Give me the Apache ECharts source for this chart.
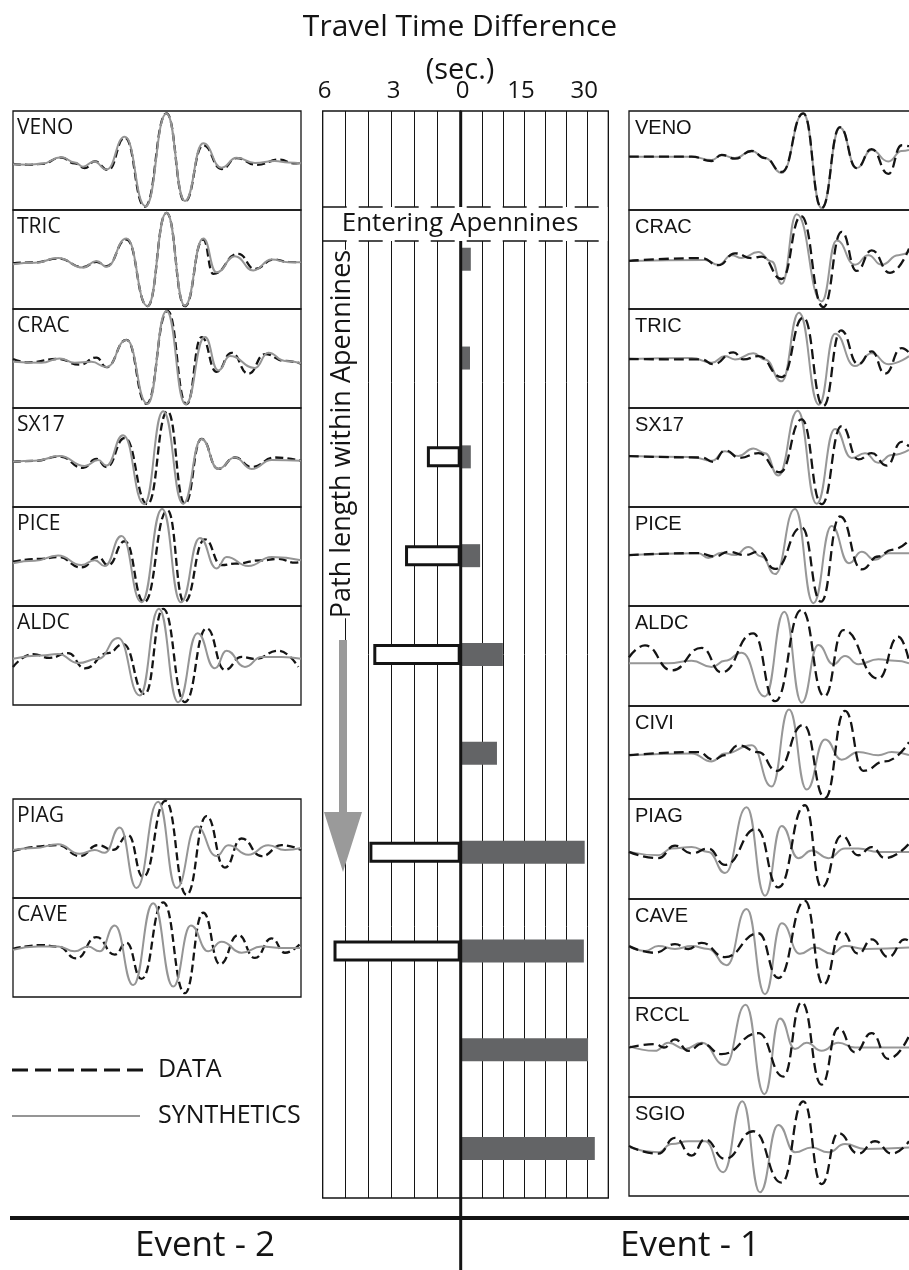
<!DOCTYPE html>
<html><head><meta charset="utf-8">
<script src="https://cdn.jsdelivr.net/npm/echarts@6/dist/echarts.min.js"></script>
<style>html,body{margin:0;padding:0;background:#fff;overflow:hidden}#c{width:909px;height:1270px}</style>
</head><body><div id="c"></div>
<script>
// ---------------- data ----------------
const rowStations = ['VENO','CRAC','TRIC','SX17','PICE','ALDC','CIVI','PIAG','CAVE','RCCL','SGIO'];
const event1Delay = [null, 2.4, 2.2, 2.4, 4.6, 10.0, 8.6, 29.4, 29.2, 30.2, 31.8];   // sec (0-35 scale)
const event2Delay = [null, null, null, 1.47, 2.42, 3.8, null, 3.97, 5.53, null, null]; // sec (0-6 scale)
const event2TickLabels = [6, 3, 0];
const event1TickLabels = [15, 30];
const leftStations = ['VENO','TRIC','CRAC','SX17','PICE','ALDC','PIAG','CAVE'];
const rightStations = ['VENO','CRAC','TRIC','SX17','PICE','ALDC','CIVI','PIAG','CAVE','RCCL','SGIO'];

// Event 2 (left) traces: [time, amplitude]
const VENO_L_syn = [[0,-0.08],[4.5,-0.09],[8.5,-0.07],[14.5,0.07],[18.5,-0.04],[21,-0.13],[24.3,-0.02],[28,-0.19],[33.5,0.5],[39.7,-0.96],[46,0.99],[51.5,-0.85],[57,0.36],[62.5,-0.15],[67,0.06],[72.5,-0.05],[78.5,-0.01],[82.5,-0.04],[86.3,-0.06]];
const VENO_L_dat = [[0,-0.07],[4.5,-0.09],[8.5,-0.07],[14.5,0.06],[18.5,-0.06],[21.5,-0.16],[24.5,-0.02],[28.5,-0.2],[33.5,0.48],[39.5,-0.97],[46,0.99],[51.5,-0.86],[57,0.32],[62.5,-0.18],[67,0.05],[73,-0.09],[80,0.02],[84,-0.06],[86.3,-0.05]];
const TRIC_L_syn = [[0,-0.1],[6.5,-0.07],[13.5,0.03],[21,-0.17],[25,-0.03],[28,-0.15],[34,0.44],[40.3,-0.98],[46,0.98],[51.5,-0.97],[57,0.44],[61,-0.27],[66.5,0.07],[72,-0.23],[77.5,0.0],[82.5,-0.06],[86.3,-0.06]];
const TRIC_L_dat = [[0,-0.08],[6.5,-0.06],[13.5,0.02],[21,-0.16],[25,-0.05],[28,-0.14],[34,0.42],[40.3,-0.98],[46,0.98],[51.5,-0.98],[57,0.42],[60,-0.3],[67.5,0.12],[72.5,-0.2],[78,0.0],[82.5,-0.05],[86.3,-0.06]];
const CRAC_L_syn = [[0,-0.07],[8.5,-0.09],[14,0.0],[18.5,-0.09],[23.5,-0.07],[28,-0.18],[34,0.39],[40.3,-0.95],[46,1.0],[51.7,-0.96],[57.5,0.45],[61.5,-0.25],[65,0.05],[72.5,-0.2],[76.5,0.12],[81.5,-0.05],[86.3,-0.1]];
const CRAC_L_dat = [[0,-0.01],[4.5,-0.08],[13.5,-0.01],[20,-0.13],[25,0.02],[28,-0.18],[34,0.39],[40,-0.95],[46.3,1.0],[52,-0.96],[56.5,0.45],[61,-0.28],[65.5,0.12],[70.5,-0.32],[75.5,0.09],[81.5,-0.05],[86.3,-0.11]];
const SX17_L_syn = [[0,-0.09],[6.5,-0.07],[14,0.03],[21.5,-0.18],[25.5,-0.05],[28,-0.17],[33,0.47],[39.3,-0.98],[45,0.97],[51,-0.97],[56.5,0.39],[61.5,-0.24],[66.5,0.0],[71.5,-0.24],[77.5,-0.05],[86.3,-0.07]];
const SX17_L_dat = [[0,-0.09],[6.5,-0.07],[14,0.02],[21,-0.22],[25,-0.03],[28,-0.2],[33.5,0.41],[40.3,-0.98],[46.3,0.97],[51.5,-0.97],[56.5,0.39],[61.5,-0.24],[66.5,0.0],[71.5,-0.2],[78.5,0.0],[86.3,-0.07]];
const PICE_L_syn = [[0,-0.14],[6.5,-0.09],[13.5,0.02],[20.5,-0.18],[24.5,-0.08],[27.5,-0.2],[32.5,0.43],[38.5,-0.96],[44.7,1.0],[50.3,-0.96],[56,0.39],[61,-0.25],[64,-0.01],[70.5,-0.2],[77.5,-0.01],[86.3,-0.08]];
const PICE_L_dat = [[0,-0.11],[8.5,-0.05],[13.5,-0.01],[20.5,-0.23],[25.5,-0.01],[28.5,-0.18],[33.5,0.32],[39.3,-0.96],[46.3,0.97],[51.3,-0.96],[57.5,0.36],[62.5,-0.18],[66.5,-0.15],[74.5,-0.08],[79.5,-0.05],[84.5,-0.13],[86.3,-0.11]];
const ALDC_L_syn = [[0,-0.07],[8.5,0.0],[13.5,0.03],[19.5,-0.16],[25.5,-0.07],[31.5,0.37],[38,-0.84],[43.7,0.98],[49.5,-0.98],[55.3,0.47],[60.5,-0.27],[64,0.1],[69.5,-0.24],[74.5,-0.03],[80.5,-0.03],[86.3,-0.07]];
const ALDC_L_dat = [[0,-0.24],[6,0.03],[11,-0.05],[16.5,0.05],[21.5,-0.27],[28.5,0.05],[33,0.24],[39.5,-0.81],[45,0.98],[51.5,-0.98],[58,0.57],[63.5,-0.3],[68.5,-0.03],[72.5,-0.07],[79.5,0.1],[85.5,-0.24]];
const PIAG_L_syn = [[0,-0.03],[6.5,0.01],[13.5,0.09],[20,-0.11],[24.5,-0.03],[27.5,-0.09],[32,0.44],[37,-0.83],[43.5,0.98],[49,-0.83],[55,0.46],[61,-0.16],[64.5,0.07],[70.5,-0.13],[76.5,0.07],[81.5,-0.03],[86.3,0.01]];
const PIAG_L_dat = [[0,-0.05],[13.5,0.07],[20,-0.16],[25.5,0.07],[30,-0.03],[34.5,0.28],[39,-0.6],[45.7,1.0],[52,-0.97],[58,0.68],[63.5,-0.4],[68.5,0.21],[74.5,-0.16],[80.5,0.07],[86.3,-0.03]];
const CAVE_L_syn = [[0,-0.05],[7.5,0.02],[13.5,0.02],[18.5,-0.08],[22.5,0.02],[26,-0.08],[30.5,0.46],[36,-0.79],[42,0.93],[48,-0.82],[53.3,0.46],[58.5,-0.08],[62.5,0.12],[68.5,-0.11],[74.5,0.02],[80.5,-0.01],[86.3,-0.01]];
const CAVE_L_dat = [[0,-0.03],[8.5,0.05],[13.5,0.02],[19,-0.23],[25,0.22],[30.5,-0.15],[34,0.1],[38.5,-0.66],[45,0.95],[51.5,-0.96],[57,0.73],[62,-0.35],[67.5,0.26],[72.5,-0.22],[77.5,0.19],[81.5,-0.11],[86.3,0.1]];

// Event 1 (right) traces: [time, amplitude]
const VENO_R_syn = [[0,0.08],[18.8,0.08],[24.8,0.01],[27.8,0.11],[31.8,0.05],[36.8,0.2],[40.8,0.05],[45.8,-0.26],[52.3,0.99],[57.8,-1.0],[63.3,0.69],[68.3,-0.16],[72.8,0.22],[77.8,-0.02],[81.8,0.2],[84,0.22]];
const VENO_R_dat = [[0,0.08],[18.8,0.08],[24.8,-0.01],[27.8,0.12],[31.8,0.04],[36.8,0.2],[40.8,0.05],[45.8,-0.24],[52.3,0.99],[57.8,-1.0],[63.3,0.7],[68.3,-0.16],[72.8,0.24],[77.8,-0.28],[81.8,0.32],[84,0.3]];
const CRAC_R_syn = [[0,-0.03],[22.8,-0.01],[26.8,-0.11],[30.8,0.09],[33.8,0.03],[38.8,0.16],[42.8,-0.04],[45.8,-0.51],[50.3,0.95],[57.8,-0.88],[62.3,0.4],[67.8,-0.11],[71.8,0.09],[75.8,-0.11],[80.8,0.09],[84,0.16]];
const CRAC_R_dat = [[0,-0.03],[21.8,0.03],[26.8,-0.12],[31.8,0.13],[36.8,0.03],[39.8,0.06],[45.8,-0.41],[51.6,0.91],[58.3,-1.0],[63.8,0.58],[68.3,-0.24],[72.8,0.19],[78.3,-0.28],[84,0.23]];
const TRIC_R_syn = [[0,-0.01],[18.8,0.01],[24.8,-0.09],[28.8,0.05],[31.8,-0.02],[37.3,0.11],[40.8,-0.02],[45.8,-0.48],[51,0.96],[57,-0.97],[61.8,0.52],[67.8,-0.16],[72.8,0.11],[77.8,-0.12],[84,0.05]];
const TRIC_R_dat = [[0,-0.01],[21.8,-0.02],[25.3,-0.12],[31.3,0.13],[34.3,-0.02],[38.8,0.05],[45.8,-0.39],[52.3,0.86],[58.3,-1.0],[63.6,0.59],[68.8,-0.12],[72.8,0.15],[76.8,-0.32],[81.8,0.22],[84,0.12]];
const SX17_R_syn = [[0,0.03],[18.8,0.01],[24.8,-0.07],[28.8,0.13],[32.8,0.03],[37.3,0.19],[40.8,0.09],[44.8,-0.38],[50.6,0.98],[56.3,-0.97],[61.8,0.6],[66.8,-0.01],[70.8,0.09],[74.8,-0.11],[78.8,0.05],[84,0.16]];
const SX17_R_dat = [[0,0.03],[21.8,0.0],[25.3,-0.09],[28.8,0.15],[33.3,-0.01],[38.8,0.09],[45.3,-0.31],[51.8,0.8],[57.8,-0.98],[63.8,0.66],[68.8,-0.04],[72.8,0.09],[77.3,-0.17],[81.8,0.33],[84,0.23]];
const PICE_R_syn = [[0,0.03],[20.8,0.07],[23.8,-0.03],[27.8,0.08],[31.8,0.03],[35.8,0.2],[39.8,0.0],[43.8,-0.37],[49.8,1.0],[55.3,-0.98],[60.8,0.64],[66,-0.14],[69.8,0.1],[73.8,-0.07],[77.8,0.07],[84,0.07]];
const PICE_R_dat = [[0,0.03],[20.8,0.07],[25.8,0.0],[29.8,0.1],[34.8,0.03],[38.8,0.1],[43.8,-0.26],[51.8,0.61],[57.6,-0.95],[63.3,0.84],[69.8,-0.27],[74.8,0.0],[78.8,0.14],[84,0.34]];
const ALDC_R_syn = [[0,-0.15],[11.8,-0.15],[18.8,-0.1],[24.8,-0.23],[28.8,-0.1],[33.8,0.07],[40.8,-0.84],[46.6,0.92],[51.8,-0.97],[56.8,0.23],[61.3,-0.17],[64.8,0.0],[68.8,-0.17],[74.8,-0.07],[79.8,-0.1],[84,-0.15]];
const ALDC_R_dat = [[0,-0.03],[4.8,0.22],[12.8,-0.3],[21.8,0.17],[27.8,-0.34],[37.3,0.47],[43.8,-0.94],[51.8,0.96],[58.6,-0.84],[64.3,0.54],[74.8,-0.47],[80.8,0.4],[84,-0.1]];
const CIVI_R_syn = [[0,-0.06],[18.8,-0.02],[24.8,-0.2],[28.8,-0.02],[36.8,0.16],[42.8,-0.76],[48,0.96],[53.3,-0.83],[58.8,0.29],[63.8,-0.16],[68.8,0.01],[74.8,-0.06],[78.8,0.01],[84,-0.06]];
const CIVI_R_dat = [[0,-0.06],[20.8,0.01],[25.3,-0.16],[28.8,-0.06],[32.8,0.16],[38.8,0.01],[44.3,-0.41],[52.3,0.62],[58.8,-1.02],[64.8,0.93],[70.3,-0.41],[76.8,-0.2],[84,0.23]];
const PIAG_R_syn = [[0,-0.06],[8.8,-0.13],[12.8,0.01],[18.8,0.04],[23.8,-0.06],[28.8,-0.5],[35.3,0.87],[40.8,-0.97],[45.8,0.48],[50.8,-0.19],[54.8,-0.03],[59.8,-0.19],[64.8,0.01],[68.8,0.01],[74.8,-0.06],[84,-0.06]];
const PIAG_R_dat = [[0,-0.06],[8.8,-0.19],[13.8,0.07],[18.8,-0.09],[23.8,0.01],[28.8,-0.33],[38.3,0.42],[44.8,-0.8],[52.8,0.91],[57.8,-0.8],[63.8,0.28],[68.8,-0.13],[72.8,0.04],[76.8,-0.19],[84,0.11]];
const CAVE_R_syn = [[0,0.05],[4.8,-0.05],[8.8,0.05],[13.8,-0.01],[18.8,0.05],[23.8,-0.01],[29.3,-0.35],[35.3,0.83],[40.8,-0.96],[45.8,0.53],[51.3,-0.11],[55.8,0.02],[60.8,-0.11],[64.8,0.05],[70.8,-0.01],[84,0.02]];
const CAVE_R_dat = [[0,0.05],[7.8,-0.09],[13.8,0.09],[17.8,-0.01],[21.8,0.12],[28.8,-0.18],[38.8,0.32],[44.8,-0.62],[52.8,1.0],[58.3,-0.76],[63.8,0.36],[68.8,-0.11],[72.8,0.19],[77.8,-0.18],[82.8,0.19],[84,0.16]];
const RCCL_R_syn = [[0,0.03],[7.8,-0.07],[11.8,0.1],[16.8,-0.03],[21.8,0.1],[28.8,-0.37],[35,0.9],[40.6,-0.98],[45.3,0.61],[49.8,-0.03],[53.3,0.1],[57.8,-0.07],[62.8,0.1],[67.8,0.0],[84,0.0]];
const RCCL_R_dat = [[0,0.0],[8,0.07],[10.5,0.0],[13.8,0.17],[17.8,-0.07],[22,0.08],[27.8,-0.14],[38.8,0.3],[46.3,-0.61],[51.8,0.95],[57.8,-0.78],[62.8,0.41],[67.8,-0.1],[72.8,0.3],[77.8,-0.24],[84,0.24]];
const SGIO_R_syn = [[0,-0.01],[8.8,-0.12],[12.8,0.05],[17.8,0.11],[22.8,0.11],[28.3,-0.54],[34,0.95],[39.3,-0.96],[44.8,0.45],[49.8,-0.12],[54.8,-0.02],[59.8,-0.12],[64.8,0.05],[70.8,-0.05],[84,-0.02]];
const SGIO_R_dat = [[0,0.01],[8.8,-0.15],[13.8,0.18],[18.8,-0.19],[22.8,0.15],[28.8,-0.26],[37.3,0.32],[45.8,-0.76],[52.3,0.95],[57.8,-0.79],[62.8,0.28],[68.8,-0.15],[73.8,0.11],[78.8,-0.15],[84,0.11]];

// ---------------- build ----------------
const leftTraces = {VENO:[VENO_L_dat,VENO_L_syn],TRIC:[TRIC_L_dat,TRIC_L_syn],CRAC:[CRAC_L_dat,CRAC_L_syn],SX17:[SX17_L_dat,SX17_L_syn],PICE:[PICE_L_dat,PICE_L_syn],ALDC:[ALDC_L_dat,ALDC_L_syn],PIAG:[PIAG_L_dat,PIAG_L_syn],CAVE:[CAVE_L_dat,CAVE_L_syn]};
const rightTraces = {VENO:[VENO_R_dat,VENO_R_syn],CRAC:[CRAC_R_dat,CRAC_R_syn],TRIC:[TRIC_R_dat,TRIC_R_syn],SX17:[SX17_R_dat,SX17_R_syn],PICE:[PICE_R_dat,PICE_R_syn],ALDC:[ALDC_R_dat,ALDC_R_syn],CIVI:[CIVI_R_dat,CIVI_R_syn],PIAG:[PIAG_R_dat,PIAG_R_syn],CAVE:[CAVE_R_dat,CAVE_R_syn],RCCL:[RCCL_R_dat,RCCL_R_syn],SGIO:[SGIO_R_dat,SGIO_R_syn]};

const MYR = "'Open Sans', 'Noto Sans', sans-serif";
const HEL = "'Liberation Sans', Arial, sans-serif";
const INK = '#141414';
const GRAYLINE = '#959595';

const grids = [], xAxes = [], yAxes = [], series = [], graphics = [];

// panel layouts
const leftPanelX = 13, leftPanelW = 288;
const leftTops = [111,210,309,408,507,606,799,898];
const leftH = 99;
const rightPanelX = 629, rightPanelW = 300;       // runs off the right edge of the page
const rightTops = [111,210,309,408,507,606,706,799,899,998,1097,1196];

function addPanel(left, top, w, h, xmax, traces, label, font, labelDx, dash, gray, dashOnTop) {
  const gi = grids.length;
  grids.push({left:left, top:top, width:w, height:h, show:true, borderColor:INK, borderWidth:1.3, containLabel:false, outerBoundsMode:'none'});
  xAxes.push({type:'value', gridIndex:gi, min:0, max:xmax, show:false});
  yAxes.push({type:'value', gridIndex:gi, min:-1.04, max:1.04, show:false});
  const dat = {type:'line', xAxisIndex:gi, yAxisIndex:gi, data:traces[0], showSymbol:false, smooth:0.5, smoothMonotone:'x',
    lineStyle:{color:INK, width:2.3, type:dash}, z: dashOnTop ? 4 : 3, silent:true, animation:false};
  const syn = {type:'line', xAxisIndex:gi, yAxisIndex:gi, data:traces[1], showSymbol:false, smooth:0.5, smoothMonotone:'x',
    lineStyle:{color:gray, width:2}, z: dashOnTop ? 3 : 4, silent:true, animation:false};
  series.push(dat, syn);
  graphics.push({type:'text', left:left+labelDx, top:top+7, z:30, style:{text:label, font:font, fill:INK}});
}

leftStations.forEach((s,i)=>{
  addPanel(leftPanelX, leftTops[i], leftPanelW, leftH, 86.3, leftTraces[s], s, "21px "+MYR, 4, [8,4], GRAYLINE, false);
});
rightStations.forEach((s,i)=>{
  addPanel(rightPanelX, rightTops[i], rightPanelW, rightTops[i+1]-rightTops[i], 90, rightTraces[s], s, "20px "+HEL, 6, [10,5], '#979797', true);
});

// central travel-time panel
const cTop = 111, cH = 1087, c0 = 460.7;
const giL = grids.length;
grids.push({left:322.7, top:cTop, width:c0-322.7, height:cH, show:true, borderColor:INK, borderWidth:1.3, outerBoundsMode:'none'});
xAxes.push({type:'value', gridIndex:giL, min:0, max:6, interval:1, inverse:true, position:'top',
  axisLine:{show:false}, axisTick:{show:false},
  axisLabel:{show:true, margin:8, fontSize:24, fontFamily:MYR, color:INK, padding:[0,0,0,4],
    formatter:(v)=> event2TickLabels.indexOf(v)>=0 ? String(v) : ''},
  splitLine:{show:true, lineStyle:{color:INK, width:1}}});
yAxes.push({type:'category', gridIndex:giL, data:rowStations, inverse:true, show:false});
const giR = grids.length;
grids.push({left:c0, top:cTop, width:608.3-c0, height:cH, show:true, borderColor:INK, borderWidth:1.3, outerBoundsMode:'none'});
xAxes.push({type:'value', gridIndex:giR, min:0, max:35, interval:5, position:'top',
  axisLine:{show:false}, axisTick:{show:false},
  axisLabel:{show:true, margin:8, fontSize:24, fontFamily:MYR, color:INK, padding:[0,6,0,0],
    formatter:(v)=> event1TickLabels.indexOf(v)>=0 ? String(v) : ''},
  splitLine:{show:true, lineStyle:{color:INK, width:1}}});
yAxes.push({type:'category', gridIndex:giR, data:rowStations, inverse:true, show:false});

series.push({type:'bar', name:'Event 1', xAxisIndex:giR, yAxisIndex:giR, data:event1Delay, barWidth:23,
  itemStyle:{color:'#636466'}, z:5, animation:false});
series.push({type:'bar', name:'Event 2', xAxisIndex:giL, yAxisIndex:giL, data:event2Delay, barWidth:21,
  itemStyle:{color:'#ffffff', borderColor:INK, borderWidth:3}, z:5, animation:false});

// annotation graphics
graphics.push(
  {type:'text', x:460, y:27, z:30, style:{text:'Travel Time Difference', font:'30px '+MYR, fill:INK, align:'center', verticalAlign:'middle'}},
  {type:'text', x:460, y:71, z:30, style:{text:'(sec.)', font:'29px '+MYR, fill:INK, align:'center', verticalAlign:'middle'}},
  // Entering Apennines band
  {type:'rect', z:45, shape:{x:324, y:207, width:283.5, height:34}, style:{fill:'#fff'}},
  {type:'line', z:46, shape:{x1:322.7, y1:207, x2:608.3, y2:207}, style:{stroke:INK, lineWidth:1.5, lineDash:[24,12]}},
  {type:'line', z:46, shape:{x1:322.7, y1:241, x2:608.3, y2:241}, style:{stroke:INK, lineWidth:1.5, lineDash:[24,12]}},
  {type:'text', x:460, y:224, z:47, style:{text:'Entering Apennines', font:'26px '+MYR, fill:INK, align:'center', verticalAlign:'middle'}},
  // path length label and arrow
  {type:'text', x:342, y:434, rotation:Math.PI/2, z:30, style:{text:'Path length within Apennines', font:'27px '+MYR, fill:INK, align:'center', verticalAlign:'middle', backgroundColor:'#fff'}},
  {type:'polygon', z:30, shape:{points:[[339,640],[347,640],[347,812],[362,812],[343,872],[324,812],[339,812]]}, style:{fill:'#9a9a9a'}},
  // zero axis and baseline
  {type:'line', z:40, shape:{x1:c0, y1:111, x2:c0, y2:1270}, style:{stroke:INK, lineWidth:3}},
  {type:'line', z:40, shape:{x1:10, y1:1218, x2:909, y2:1218}, style:{stroke:INK, lineWidth:4}},
  {type:'text', x:205, y:1246, z:30, style:{text:'Event - 2', font:'35px '+MYR, fill:INK, align:'center', verticalAlign:'middle'}},
  {type:'text', x:690, y:1246, z:30, style:{text:'Event - 1', font:'35px '+MYR, fill:INK, align:'center', verticalAlign:'middle'}},
  // legend
  {type:'line', z:30, shape:{x1:12, y1:1070, x2:145, y2:1070}, style:{stroke:INK, lineWidth:3, lineDash:[16,7]}},
  {type:'text', x:158, y:1070, z:30, style:{text:'DATA', font:'25px '+MYR, fill:INK, verticalAlign:'middle'}},
  {type:'line', z:30, shape:{x1:12, y1:1116, x2:140, y2:1116}, style:{stroke:GRAYLINE, lineWidth:2}},
  {type:'text', x:158, y:1116, z:30, style:{text:'SYNTHETICS', font:'25px '+MYR, fill:INK, verticalAlign:'middle'}}
);

const chart = echarts.init(document.getElementById('c'), null, {renderer:'canvas'});
chart.setOption({animation:false, backgroundColor:'#fff', grid:grids, xAxis:xAxes, yAxis:yAxes, series:series, graphic:graphics});
</script></body></html>
